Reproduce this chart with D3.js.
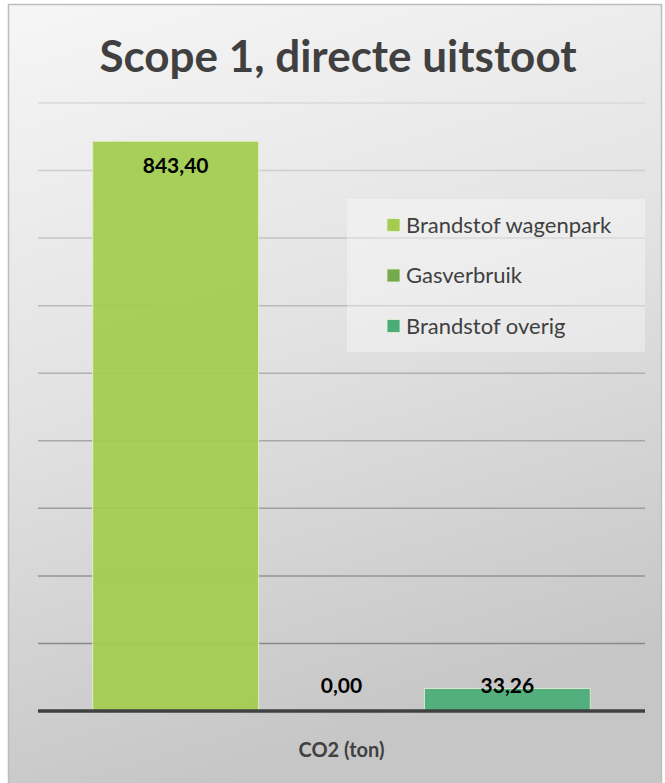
<!DOCTYPE html>
<html lang="nl">
<head>
<meta charset="utf-8">
<title>Scope 1, directe uitstoot</title>
<script src="https://d3js.org/d3.v7.min.js"></script>
<style>
  body { margin: 0; background: #fff; }
  text { font-family: Lato, "Open Sans", sans-serif; }
</style>
</head>
<body>
<script>
// data
var categories = ["CO2 (ton)"];
var seriesNames = ["Brandstof wagenpark", "Gasverbruik", "Brandstof overig"];
var seriesValues = [843.40, 0.00, 33.26];
var yTicks = [0, 100, 200, 300, 400, 500, 600, 700, 800, 900];
var colors = ["#a4cc50", "#72aa4c", "#4aad78"];

var w = 665, h = 783;
var plotLeft = 38, plotRight = 645, plotTop = 103, plotBottom = 711;

var svg = d3.select("body").append("svg")
    .attr("width", w)
    .attr("height", h);

var defs = svg.append("defs");
var bg = defs.append("linearGradient")
    .attr("id", "bg")
    .attr("x1", "0").attr("y1", "0")
    .attr("x2", "0.25").attr("y2", "1");
bg.append("stop").attr("offset", "0").attr("stop-color", "#f6f6f6");
bg.append("stop").attr("offset", "0.5").attr("stop-color", "#e2e2e2");
bg.append("stop").attr("offset", "1").attr("stop-color", "#c6c6c6");

// frame
svg.append("rect")
    .attr("x", 8.5).attr("y", 4.5)
    .attr("width", 653).attr("height", 790)
    .attr("fill", "url(#bg)")
    .attr("stroke", "#bdbdbd")
    .attr("stroke-width", 1.5);

var yScale = d3.scaleLinear()
    .domain([0, 900])
    .range([plotBottom, plotTop]);

var x0 = d3.scaleBand()
    .domain(categories)
    .range([plotLeft, plotRight])
    .paddingOuter(0.11);

var x1 = d3.scaleBand()
    .domain(seriesNames)
    .range([0, x0.bandwidth()]);

// gridlines, darker lower down like the reference
var gridColor = d3.scaleLinear()
    .domain([plotTop, plotBottom])
    .range(["#d8d8d8", "#7f7f7f"]);

svg.append("g")
    .selectAll("line")
    .data(yTicks.slice(1))
    .enter()
    .append("line")
    .attr("x1", plotLeft).attr("x2", plotRight)
    .attr("y1", function(d) { return yScale(d); })
    .attr("y2", function(d) { return yScale(d); })
    .attr("stroke", function(d) { return gridColor(yScale(d)); })
    .attr("stroke-width", 1.5);

// bars
var g = svg.append("g");
g.selectAll("rect")
    .data(seriesValues)
    .enter()
    .append("rect")
    .attr("x", function(d, i) { return x0(categories[0]) + x1(seriesNames[i]); })
    .attr("y", function(d) { return yScale(d); })
    .attr("width", x1.bandwidth())
    .attr("height", function(d) { return yScale(0) - yScale(d); })
    .attr("fill", function(d, i) { return colors[i]; })
    .attr("fill-opacity", 0.93)
    .attr("stroke", "#e8f3d8")
    .attr("stroke-opacity", 0.8)
    .attr("stroke-width", function(d) { return d > 0 ? 1 : 0; });

// axis line
svg.append("line")
    .attr("x1", plotLeft).attr("x2", plotRight)
    .attr("y1", yScale(0)).attr("y2", yScale(0))
    .attr("stroke", "#404040")
    .attr("stroke-width", 3.5);

// value labels
var fmt = function(v) { return d3.format(".2f")(v).replace(".", ","); };
g.selectAll("text")
    .data(seriesValues)
    .enter()
    .append("text")
    .attr("x", function(d, i) { return x0(categories[0]) + x1(seriesNames[i]) + x1.bandwidth() / 2; })
    .attr("y", function(d) { return Math.min(yScale(d) + 24, yScale(0) - 25); })
    .attr("dy", "0.35em")
    .attr("text-anchor", "middle")
    .style("font-size", "21px")
    .style("font-weight", "bold")
    .attr("fill", "#000")
    .text(function(d) { return fmt(d); });

// title
svg.append("text")
    .attr("x", 338)
    .attr("y", 72)
    .attr("text-anchor", "middle")
    .style("font-size", "44px")
    .style("font-weight", "bold")
    .attr("fill", "#404040")
    .text("Scope 1, directe uitstoot");

// category label
svg.append("text")
    .attr("x", x0(categories[0]) + x0.bandwidth() / 2)
    .attr("y", 757)
    .attr("text-anchor", "middle")
    .style("font-size", "20px")
    .style("font-weight", "bold")
    .attr("fill", "#404040")
    .text(categories[0]);

// legend
var legend = svg.append("g");
legend.append("rect")
    .attr("x", 347).attr("y", 199)
    .attr("width", 298).attr("height", 153)
    .attr("fill", "#ffffff")
    .attr("fill-opacity", 0.35);

var item = legend.selectAll("g.item")
    .data(seriesNames)
    .enter()
    .append("g")
    .attr("class", "item")
    .attr("transform", function(d, i) { return "translate(387," + (225 + i * 50.5) + ")"; });

item.append("rect")
    .attr("x", 0).attr("y", -6.5)
    .attr("width", 13).attr("height", 13)
    .attr("fill", function(d, i) { return colors[i]; })
    .attr("stroke", "#e8f3d8")
    .attr("stroke-width", 0.8);

item.append("text")
    .attr("x", 19)
    .attr("dy", "0.35em")
    .style("font-size", "22px")
    .attr("fill", "#404040")
    .text(function(d) { return d; });
</script>
</body>
</html>
